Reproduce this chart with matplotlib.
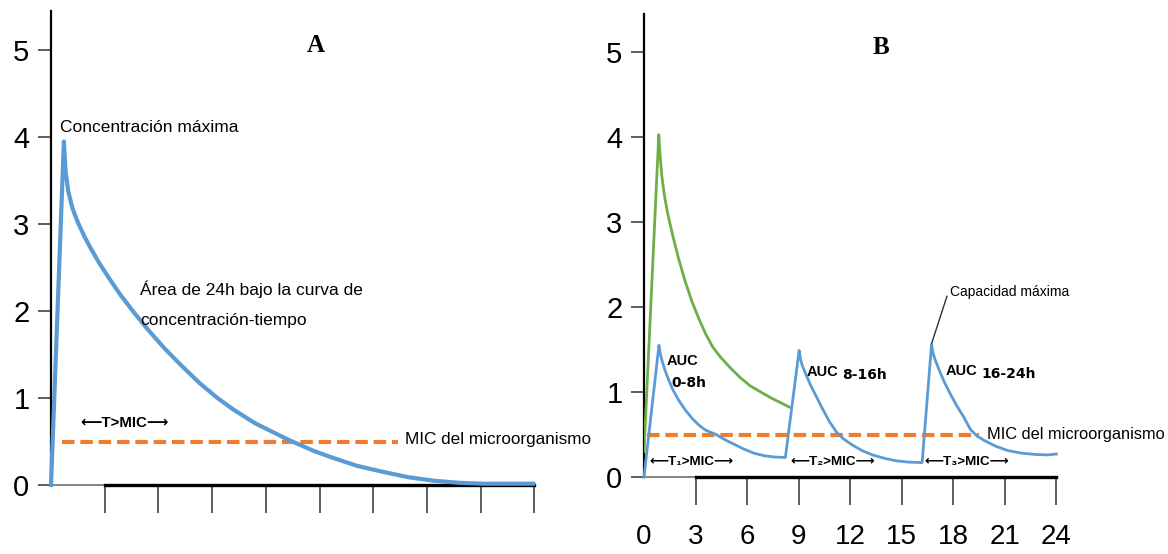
import matplotlib.pyplot as plt

plt.rcParams['font.family'] = ['Liberation Sans', 'DejaVu Sans']

# Panel A: single dose, concentration vs time (arbitrary units, ticks 1..9)
a_time = [0, 0.24, 0.27, 0.32, 0.40, 0.50, 0.62, 0.75, 0.90, 1.10, 1.30, 1.55, 1.80,
          2.10, 2.40, 2.77, 3.10, 3.39, 3.80, 4.42, 4.90, 5.26, 5.70, 6.19, 6.65,
          7.12, 7.60, 8.05, 8.98]
a_conc = [0, 3.95, 3.62, 3.38, 3.18, 3.02, 2.86, 2.71, 2.55, 2.36, 2.18, 1.98, 1.79,
          1.58, 1.39, 1.17, 1.00, 0.87, 0.71, 0.52, 0.39, 0.31, 0.22, 0.15, 0.09,
          0.05, 0.025, 0.015, 0.015]
a_mic_span = [0.2, 6.46]

# Panel B: three doses (blue) vs single large dose (green), hours
b_time = [0, 0.87, 0.95, 1.05, 1.2, 1.4, 1.7, 2.0, 2.4, 2.8, 3.2, 3.6, 4.2, 4.7, 5.2,
          5.8, 6.4, 7.0, 7.6, 8.23,
          9.03, 9.1, 9.2, 9.4, 9.7, 10.0, 10.4, 10.8, 11.2, 11.6, 12.1, 12.7, 13.3,
          14.0, 14.7, 15.4, 16.19,
          16.74, 16.82, 16.95, 17.2, 17.5, 17.8, 18.2, 18.6, 19.0, 19.4, 19.9, 20.5,
          21.2, 22.0, 22.8, 23.5, 24.0]
b_conc = [0, 1.55, 1.45, 1.37, 1.27, 1.16, 1.02, 0.91, 0.79, 0.69, 0.61, 0.55, 0.50, 0.44,
          0.39, 0.33, 0.28, 0.25, 0.235, 0.23,
          1.49, 1.40, 1.32, 1.22, 1.08, 0.96, 0.80, 0.65, 0.53, 0.45, 0.38, 0.31, 0.26,
          0.22, 0.19, 0.175, 0.17,
          1.56, 1.46, 1.38, 1.25, 1.11, 0.99, 0.84, 0.71, 0.56, 0.48, 0.42, 0.36,
          0.31, 0.28, 0.265, 0.26, 0.27]
g_time = [0, 0.86, 0.95, 1.05, 1.2, 1.4, 1.7, 2.0, 2.4, 2.8, 3.2, 3.6, 4.0, 4.5, 5.0,
          5.6, 6.2, 6.8, 7.4, 8.0, 8.49]
g_conc = [0.30, 4.03, 3.75, 3.52, 3.30, 3.08, 2.82, 2.58, 2.30, 2.06, 1.86, 1.68, 1.53,
          1.40, 1.29, 1.17, 1.07, 1.00, 0.93, 0.87, 0.82]
b_mic_span = [0.15, 19.5]
mic = 0.5
b_xticks = [0, 3, 6, 9, 12, 15, 18, 21, 24]

blue = '#5B9BD5'
orange = '#ED7D31'
green = '#70AD47'
tickc = '#505050'
larr = '⟵'
rarr = '⟶'

fig = plt.figure(figsize=(11.68, 5.54), dpi=100)

# ---------------- A ----------------
axA = fig.add_axes([51/1168, 1-485/554, 486/1168, 474/554])
axA.plot(a_time, a_conc, color=blue, lw=3, clip_on=False, zorder=3)
axA.plot(a_mic_span, [mic, mic], color=orange, lw=3, ls=(0, (3, 1.4)), zorder=2)
axA.set_xlim(0, 9.05)
axA.set_ylim(0, 5.45)
axA.set_xticks(range(1, 10))
axA.set_xticklabels([])
axA.set_yticks(range(6))

axA.text(0.17, 4.11, 'Concentración máxima', fontsize=12.5, va='center')
axA.text(1.66, 2.25, 'Área de 24h bajo la curva de', fontsize=12.5, va='center')
axA.text(1.66, 1.89, 'concentración-tiempo', fontsize=12.5, va='center')
axA.text(0.54, 0.71, larr + 'T>MIC' + rarr, fontsize=10.8, fontweight='bold', va='center')
axA.text(6.59, 0.52, 'MIC del microorganismo', fontsize=12.3, va='center')
axA.text(4.93, 5.05, 'A', fontsize=18, fontweight='bold', family='Liberation Serif',
         ha='center', va='center')

# ---------------- B ----------------
axB = fig.add_axes([644/1168, 1-477/554, 414/1168, 463/554])
axB.plot(g_time, g_conc, color=green, lw=2, zorder=3)
axB.plot(b_time, b_conc, color=blue, lw=2, clip_on=False, zorder=3)
axB.plot(b_mic_span, [mic, mic], color=orange, lw=3, ls=(0, (3, 1.4)), zorder=2)
axB.set_xlim(0, 24.1)
axB.set_ylim(0, 5.45)
axB.set_xticks(b_xticks)
axB.set_yticks(range(6))

def auc_label(ax, x, y, head, tail):
    t = ax.text(x, y, head, fontsize=10.5, fontweight='bold', va='baseline')
    ax.annotate(tail, xy=(1, 0), xycoords=t, xytext=(3, 0), textcoords='offset points',
                fontsize=10, fontweight='bold', family='DejaVu Sans', va='baseline')

axB.text(1.3, 1.32, 'AUC', fontsize=10.5, fontweight='bold', va='baseline')
axB.text(1.6, 1.06, '0-8h', fontsize=10, fontweight='bold', family='DejaVu Sans', va='baseline')
auc_label(axB, 9.47, 1.19, 'AUC', '8-16h')
auc_label(axB, 17.57, 1.20, 'AUC', '16-24h')

axB.annotate('Capacidad máxima', xy=(16.74, 1.57), xytext=(17.8, 2.18),
             fontsize=10, va='center',
             arrowprops=dict(arrowstyle='-', color='#303030', lw=1,
                             shrinkA=0, shrinkB=0, relpos=(0, 0.8)))
axB.text(19.96, 0.5, 'MIC del microorganismo', fontsize=11.8, va='center')
for x0, sub in [(0.33, '₁'), (8.54, '₂'), (16.35, '₃')]:
    axB.text(x0, 0.18, larr + 'T' + sub + '>MIC' + rarr, fontsize=9.6,
             fontweight='bold', va='center')
axB.text(13.8, 5.06, 'B', fontsize=18, fontweight='bold', family='Liberation Serif',
         ha='center', va='center')

# ---------------- axes styling ----------------
for ax, thick_from, xmax in [(axA, 1, 9), (axB, 3, 24)]:
    ax.spines['top'].set_visible(False)
    ax.spines['right'].set_visible(False)
    ax.spines['left'].set_linewidth(1.6)
    ax.spines['left'].set_bounds(0, 5.45)
    ax.spines['bottom'].set_linewidth(2.4)
    ax.spines['bottom'].set_bounds(thick_from, xmax)
    ax.plot([0, thick_from], [0, 0], color='#707070', lw=1.2, clip_on=False, zorder=1)
    ax.tick_params(axis='y', length=9.5, width=1.3, color=tickc, labelsize=21, pad=6)
    ax.tick_params(axis='x', length=20, width=1.3, color=tickc, labelsize=20, pad=14)

axB.xaxis.get_major_ticks()[0].tick1line.set_visible(False)

fig.savefig('out.png', dpi=100)
